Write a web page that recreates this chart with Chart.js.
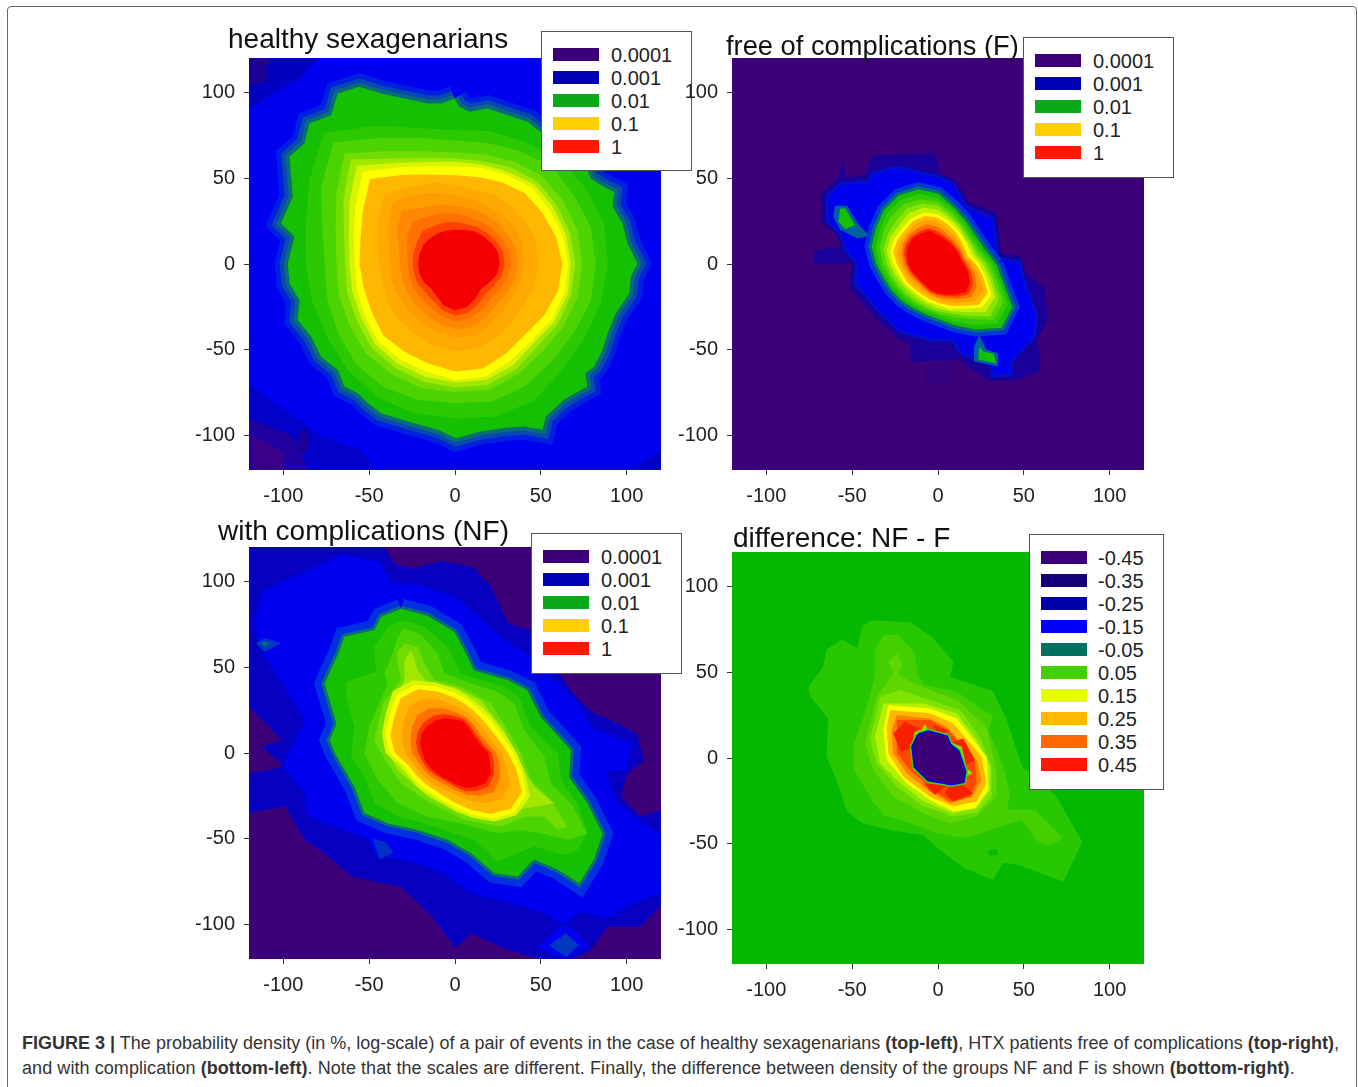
<!DOCTYPE html>
<html>
<head>
<meta charset="utf-8">
<title>Figure 3</title>
<script src="https://cdn.jsdelivr.net/npm/chart.js@4"></script>
<style>
  html, body { margin: 0; padding: 0; background: #fff; overflow: hidden; }
  body { width: 1358px; height: 1087px; position: relative; font-family: "Liberation Sans", Arial, sans-serif; }
  #frame { position: absolute; left: 7px; top: 6px; width: 1348px; height: 1100px; border: 1px solid #666; border-radius: 4px; }
  canvas { position: absolute; }
  .title { position: absolute; line-height: 32px; color: #111; white-space: nowrap; }
  .box { position: absolute; background: #fff; border: 1px solid #555; box-sizing: border-box; }
  .row { position: absolute; left: 0; height: 23px; width: 100%; }
  .swatch { position: absolute; left: 11px; top: 5px; width: 46px; height: 13px; }
  .lab { position: absolute; top: 1px; font-size: 20px; line-height: 23px; color: #222; }
  .caption { position: absolute; left: 22px; font-size: 18px; line-height: 22px; color: #333; white-space: nowrap; }
</style>
</head>
<body>
<div id="frame"></div>
<div id="stage"></div>
<div class="caption" style="top:1032px;letter-spacing:0.01px"><b>FIGURE 3 |</b> The probability density (in %, log-scale) of a pair of events in the case of healthy sexagenarians <b>(top-left)</b>, HTX patients free of complications <b>(top-right)</b>,</div>
<div class="caption" style="top:1057px;letter-spacing:0.07px">and with complication <b>(bottom-left)</b>. Note that the scales are different. Finally, the difference between density of the groups NF and F is shown <b>(bottom-right)</b>.</div>
<script>
// axis ticks and legend entries
const tickValues = [-100, -50, 0, 50, 100];
const densityLevels = ['0.0001', '0.001', '0.01', '0.1', '1'];
const densitySwatches = ['#3c0078', '#0000b4', '#08a818', '#ffd000', '#ff1800'];
const diffLevels = ['-0.45', '-0.35', '-0.25', '-0.15', '-0.05', '0.05', '0.15', '0.25', '0.35', '0.45'];
const diffSwatches = ['#3c0078', '#14007a', '#0000a8', '#0000f8', '#007060', '#44d000', '#e8ff00', '#ffb800', '#ff6800', '#ff1800'];

// contours are read as radius per angle around (0,0), outer to inner
const angles = [0, 15, 30, 45, 60, 75, 90, 105, 120, 135, 150, 165, 180, 195, 210, 225, 240, 255, 270, 285, 300, 315, 330, 345];

const healthyOuter = [-0.4,96.4,2.5,91.6,8.3,88.7,19,90.6,30.7,86.7,42.3,82.8,51,76,61.7,66.3,77.2,54.7,79,49.9,85,46,92.7,42,91.8,33.4,97.6,23.7,100.5,12,106.3,0.4,102.4,-7.4,101.5,-17,93.7,-28.7,88.9,-40.4,86,-50,81,-59.8,76,-63.6,77,-71.4,63.6,-79,53,-88.9,51,-96.6,40.4,-94.7,28.7,-95.6,15,-97.6,0.6,-101.5,-10,-96.6,-23.7,-92.7,-33.4,-89.8,-43,-87,-50.8,-81,-56.6,-75.3,-64.4,-71.4,-68.3,-61.7,-78,-54,-83.8,-42.3,-91.6,-32.6,-90.6,-21,-96.4,-11.3,-97.4,0.4,-93.5,16,-101.3,23.7,-94.5,39.2,-96.4,62.5,-87.7,70.2,-84.8,81.9,-72.2,86.7,-68.3,99.3,-55.7,103.2,-43,99.3,-29.5,96.4,-16,93.5,-8,93.5];

const healthyRadii = [
  [89,90,88,87,82,80,78,82,93,108,98,90,87,86,86,88,90,90,90,92,92,88,87,88],
  [82,82,80,80,76,73,72,76,85,100,90,80,76,77,79,82,83,82,81,83,82,80,80,82],
  [74,74,73,72,69,66,65,68,76,91,80,72,69,70,71,73.5,74,75,74.5,76,74,72,73,74],
  [70,69.5,68.5,68,65,62,61.4,64,71,86,75,67,64,65,66,69,70,71,72,73,71,68,69.5,70],
  [67.5,67,66,65.5,62,60,59.5,61.5,68,81,71,64,61.4,62,63,66,67,68,69,70,68,65,67,68],
  [66,65,63.5,63,60,58,57,59,65,76,67,61,58.5,59,60.5,63.5,64,65,67.5,68,65,63,65,66],
  [62.6,61,59,58,55,52.5,51.7,54,60,70,62,57,55.6,55,56,59,59,60,62.6,63,60,58,60,62],
  [49,49,48,47,46,45,46,49,52,58,52,47,44,44,45,46,47,49,51,51,49,47,47,48],
  [40,41,41,40,39,39,40,43,47,51,45,40,38,38,38,38.5,39.5,41,43,43,41,39,39,39.5],
  [36.5,36.5,35.5,34.5,34,33.5,34,36,38,44,39,34,32,32,32.5,33,34,36,38,38,36,34,34.5,36],
  [32.5,32.5,31,30,29,28.5,29.5,30.5,32,35,32,29,27.5,27.5,28,28,29,31,33.5,33,31,29,30,31.5],
  [29,29,27.5,26,25,24,24.5,25,25.5,27,25.5,25,24.6,24.5,24.5,24,25,28,30,29.5,27,25,26,28],
  [26,26,24.5,23,22,20.5,20,20,20.5,21,21.5,21.5,21.5,21.5,21,20,21.5,25,27,26,23.5,21,22.5,25]
];
const healthyColors = ['#2cc800','#4cd400','#70dc00','#a0e800','#d8f400','#ffff00','#ffb800','#ffaa00','#ff9c00','#ff8800','#ff7000','#ff4000','#f40000'];

// dark corners of the first panel, x,y pairs
const healthyCornerA = [-120,120,-80,120,-90,108,-105,100,-120,90];
const healthyCornerB = [-120,120,-108,120,-110,106,-120,104];
const healthyCornerC = [-120,-120,-45,-120,-55,-108,-78,-100,-95,-88,-120,-70];
const healthyCornerD = [-120,-120,-85,-120,-95,-100,-120,-90];
const healthyCornerE = [-118,-120,-100,-120,-100,-110,-118,-100];
const healthySpot = [-88,-95,-85,-102,-87,-110,-91,-110,-92,-102];
const healthyCornerF = [120,-120,105,-120,120,-108];

const freeRadii = [
  [34,29,27.5,28,30.5,34.5,41,45,46,44.5,41.7,40,36,32.5,31,30,29.5,30,32,37,44,52.5,50,39],
  [32,27,25.5,26,29,33,38.5,42,43,42,39,37.5,34,31,29,28,28,28.5,30,34.5,41,49,47,37],
  [30,25.5,24,24.5,27,31,36,39,40,39,37,35,32,29,27.5,26.5,26.5,27,29,32,37,46,44,35],
  [28,23.5,23,23.5,26,29,34,36.5,37,35,34,33,30,27.5,26,25,25,26,27.5,30,35,43,41,33],
  [26,22,21.5,22,24.5,27.5,31.5,34,34,32,32,31,28,25.5,24,23,23,24,26,28.5,32.5,39.5,38.5,31],
  [24,20,20,21,23,25.5,29,31,31,29.5,29.5,29,26,23.5,22.5,21.5,21.5,22.5,24,27,30,36,36,29],
  [22,18,18,19,21,23.5,27,29,29,27.5,27.5,27,24,21.5,21,20,20,21,22.5,25,28,33.5,33.5,27],
  [20,16.5,16.5,17.5,19,21,24.5,26.5,26.5,25.5,25.5,24.5,22,20,19,18,18,19,20.5,23,26,30.5,30.5,24.5],
  [18,15.5,15.5,16,17,18.5,21.5,24,24,24,23.5,22,20,18.5,17,16,16.5,18,19.5,21,23.5,27.5,26,22],
  [16.5,14.5,14.5,14.5,15.5,16.5,19,21.5,22,22.5,22,20.5,18.5,17,15.5,15,15.5,17,18,19.5,22,25,23.5,20],
  [15,13.5,13.5,13.5,14,15,17,20,20.5,21,20.5,19,17.5,16,14.5,14,14.5,16,17,18.5,20.5,23,21.5,18]
];
const freeColors = ['#14c000','#34cc00','#58d800','#88e400','#c4f000','#ffff00','#ffb800','#ffa000','#ff7000','#ff3000','#f40000'];
const freeFaint = [-8.5,-57.8,9,-57.8,9,-71,-8.5,-71];
const freeDark = [-38,63,-2,65,2,52,10,49,18,36,34,30,37,6,48,5,51,-5,62,-14,64,-32,58,-44,60,-62,46,-68,30,-68,12,-56,-16,-57,-16,-48,-24,-43,-36,-32,-52,-14,-50,0,-72,0,-72,8,-56,10,-60,18,-68,24,-68,42,-58,50,-55,62,-54,50,-43,52];
const freeBlue = [-24,56.6,-38.6,52.7,-40.5,47.9,-57,46.9,-64.7,39.1,-64.3,24.6,-57,17.8,-54,8.1,-47.3,0.4,-48.3,-11.2,-33.7,-28.7,-22.1,-39.3,-4.7,-44.2,8.9,-44.2,12.8,-51.9,30.2,-58.7,31.8,-65.5,43.8,-64,41.9,-57.8,56.4,-42.2,57.4,-30.6,49.6,-7.4,47.7,1.4,35,3.3,32.2,26.6,16.7,33.3,8.9,46.9,0.2,50.8];
const freeTealA = [-60,34,-53,34,-46,22.7,-39.5,16,-47,15,-57,20,-61,27.5];
const freeGreenA = [-57,32.4,-54,32.4,-48.3,22.7,-54,20.2,-58,24.6];
const freeTealB = [24,-41.3,28.3,-50,35,-52,35,-59.7,21.5,-56.8,21,-48];
const freeGreenB = [24,-48,26.4,-51,32.6,-52.3,34,-57.8,23.4,-55.8];

const compRadii = [
  [36,32,30,30,31,33.5,37.5,42.5,49,51,46.5,44,40.5,32.5,30,29.5,29,30,33.5,39,46,51,50.5,42],
  [34,30,28,28,29,31.5,35,40,46,48,44,42,38,30.5,28.5,27.5,27,28.5,31.5,37,44,49,48,40],
  [31,27,25,25,26,28.5,32,37,43,45,41,39,35,28,26,25,24.5,26,29,34,41,46,45,37],
  [27,23,21.5,21.5,23,25,27.5,32,37,38,35,32,29,25,23.5,22.5,22,22,24,28.5,34,38,37,31],
  [24,20,18.5,18.5,20,22,24,27,30,31,29,27,25,22,20.5,19.5,19,19.5,21.5,25,29,32,30,27],
  [21.5,17.5,16.5,16.5,18,20.5,21.5,23.5,25,25.5,25,23.5,21.5,19.5,18.5,17.5,17,17.5,19.5,23,25.5,27.5,26,23.5],
  [19.5,16,15,15,16.5,19,19.5,21,22,22.5,22.5,21,19,18,17,16,16,16.3,18,21,23,25,24,21]
];
const compColors = ['#d8f400','#ffff00','#ffb800','#ffa000','#ff7000','#ff3000','#f40000'];
const compDark = [-120,120,-41,120,-35,110,-24,107.5,-8,112,11,108,21,97,31,75.5,44,71.6,62,44.4,69.5,33,81,23,93,18,106,11.4,110,-4,100.5,-12,96.6,-25.4,108,-37,120,-33,120,-89,108,-101,89,-101,79,-114.7,69.5,-120,50,-120,30.7,-114.7,9.3,-105,0.6,-113.7,-14,-95,-31.4,-78,-60.5,-72,-74,-60,-87.7,-50.6,-99,-31,-120,-35,-120,-12,-99,-8,-113,3.7,-101,7.6,-120,27];
const compBlue = [-112,95,-66,116,-43,112,-37,99,-22,99,1.5,91,15,79,27,68,40,60,60,42.5,71,31,81,15,104,5.6,100.5,-10,89,-12,95,-29,120,-47,120,-82,102,-89,89,-97,73,-93,64,-101,50,-93,30.7,-87.5,9.3,-82,-8,-70,-24,-64,-47,-60,-51,-51,-66,-45,-86,-37,-88,-23.5,-101,-8,-93.5,7.6,-88,19,-99,36.7,-113,58,-117,70,-117,80];
const compGreen0 = [-31.4,84,-16,80,-0.4,70.6,7.4,56,11,48,30.7,42.5,42,36.7,50,21,67.5,1.7,66.5,-14,77,-29,86,-47,81,-62,72.4,-76,60,-68,46,-62,36.5,-72,23,-70,9.3,-58.4,-4.3,-50.6,-21.7,-44.8,-39,-41,-52.8,-35,-58.6,-19.6,-70,0,-73,7.6,-69,17,-76,40.5,-68,58,-64.4,67.7,-47,71.6,-43,79.3];
const compGreen1 = [-29.5,77.4,-18,73.5,-4.3,62,3.5,46.4,15,42.5,28.7,38.6,37.4,32.8,44,15.3,60,0,61.7,-15.7,71.4,-29.3,77,-46.8,71.4,-56.5,63.6,-59.4,46,-54.5,24.8,-63,11,-50.6,-0.4,-46.8,-17.8,-41,-33.4,-37,-47,-29.3,-51.8,-15.7,-60.5,-2,-58.6,15.3,-63.4,32.8,-63.4,41.5,-46,47.3,-47,62,-39,73.5];
const compGreen2 = [-29.5,72.6,-19.8,68.7,-10,58,-6.2,46.4,9.3,40.5,24.8,35.7,34.5,29,40.4,13.4,52,-2,55.9,-17.7,67.5,-29.3,77,-46.8,65.6,-50.6,50,-46.8,38.4,-44.8,24.8,-46.8,3.5,-41,-15.9,-37,-33.4,-29.3,-45,-15.7,-52.8,-0.2,-49.9,15.3,-39.2,40.5,-41,46.4,-36.3,58,-33.4,67.7];
const compGreen3 = [-29.5,63.8,-21.7,61.9,-17.8,52.2,-12,42.5,3.5,38.6,21,29,30.7,13.4,38.4,-0.2,44.2,-15.7,55.9,-27.4,65.6,-42.9,59.8,-44.8,52,-37,40.4,-37,26.8,-42.9,5.4,-39,-14,-29.3,-31.4,-17.7,-41,-4,-47,7.6,-42,28.9,-31.4,42.5,-34.3,58];
const compGreen4 = [-25.6,60,-21.7,48.3,-16,40.5,-0.4,38.6,15,30.8,28.7,13.4,36.5,-4,46,-19.6,57.8,-29.3,48,-31,36.5,-33,19,-39,1.6,-35,-16,-25.4,-33.4,-10,-41,3.7,-39,23,-29.5,42.5,-29.5,54];
const compSpotA = [-116,64,-111,67,-101,64,-111,59];
const compSpotA2 = [-113,64,-111,65,-108,64,-111,62];
const compSpotB = [48,-113,64,-98,78,-112,64,-120];
const compSpotB2 = [55,-112,64.6,-105,72,-112,64.6,-119];
const compSpotC = [-48,-50,-40,-52,-36,-58,-44,-62];

const diffC1 = [-39,80,-44,77,-47,64,-56,69,-65,63,-67,53,-75.5,41.5,-74.5,36,-64,23,-65,1,-59,-13,-53,-31,-44,-38,-28,-42,-8.5,-45,1,-53.5,15,-64,32,-71,38,-61,46,-62,73,-72,84,-49,69,-22.5,49,-5,40,22,32,39,7,47,9,56,-3,70,-16,79,-32,80];
const diffC2 = [-36.7,62.9,-31.8,71.6,-23,71.6,-14,61.9,-11.4,47.3,-7.6,42.5,10.9,38.6,32.2,24,29.3,16.3,38,-5,41.9,-20.6,40,-30.3,56.5,-30.3,72.9,-46.8,64.2,-51.6,57.4,-47.7,48.7,-36,30.3,-41.9,16.7,-46.8,-0.8,-43.8,-16.3,-38,-31.8,-33.2,-38.6,-24.4,-49.3,-6,-49.3,6.6,-41.5,29.9,-36.7,47.3];
const diffC3 = [-28.9,56,-24,60.9,-21,55,-23,48.3,-12.4,42.5,10.9,33.8,28.3,18.2,34,-7,34,-22.5,22.5,-34,7,-38,-8.5,-32.2,-26,-22.5,-37.6,-7,-42.5,8.5,-35.7,35.7,-26,49.3];
const diffC4 = [-33.8,35.7,-22,39.6,-4.7,33.8,12.8,28,24.4,12.4,31.2,-5,31.2,-22.5,22.5,-32.2,8.9,-34,-8.5,-28.3,-24,-16.7,-35.7,-3,-39.6,10.5];
const diffC5 = [-31.8,31.8,-8.5,31.8,10.9,26,22.5,10.5,30.3,-5,30.3,-18.6,22.5,-29.3,8.9,-32.2,-8.5,-25.4,-24,-12.8,-33.8,-3,-36.7,12.4];
const diffYellow = [-28.9,30.8,-4.7,28.9,10.9,23,28.3,0.8,29.3,-18.6,21.5,-29.3,8.9,-31.2,-4.7,-24.4,-18.2,-14.7,-29.9,-1.2,-31.8,16.3];
const diffOrange = [-27.9,27.9,-4.7,26,8.9,20.2,25.4,0.8,28.3,-14.7,22.5,-25.4,8.9,-28.3,-4.7,-22.5,-20.2,-10.9,-28.9,2.7,-29.9,18.2];
const diffDeep = [-24,25,-4.7,23,5,18.2,22.5,-1.2,25.4,-12.8,19.6,-22.5,7,-26.4,-4.7,-19.6,-18.2,-8.9,-26,2.7,-27,16.3];
const diffHot = [-24,22.1,-4.7,22.1,6,16.3,21.5,-1.2,22.5,-14.7,18.6,-22.5,7,-25.4,-2.7,-18.6,-16.3,-7,-24,2.7];
const diffRedA = [-26,14.4,-19.2,21.1,-11.4,17.3,-13.4,13.4,-15.3,5.6,-22,3.7];
const diffRedB = [-2.7,19.2,5,16.3,6,12.4,-0.8,15.3];
const diffRedC = [8.9,9.5,14.7,11.4,21.5,-1.2,14.7,-5,11.8,2.7];
const diffRedD = [-8.5,-14.7,5,-16,-1.7,-21.5,-7.6,-15.7];
const diffRedE = [7,-14.7,14.7,-15.7,20.6,-20.6,8.9,-25.4,4,-20.6];
const diffSpikes = [-7.6,19.8,-5.2,15.3,5,14.4,6.6,9.5,13.8,6.6,16.7,-6,20.2,-8.9,15.7,-10.9,15.1,-14.7,-5.6,-14.7,-7,-10.9,-14.4,-7,-15.9,6.6,-13.4,15.3,-9.5,16.3];
const diffCore = [-11.4,13.4,-5.6,15.3,5,12.4,7,7.6,11.8,3.7,15.7,-8,14.7,-13.8,8,-15.1,-5.6,-12.8,-13.4,-5,-14.7,6.6];
const diffHole = [29,-54,34,-53,35,-56,30,-57];

function fromRadii(radii) {
  const pts = radii.map((r, i) => ({
    x: r * Math.cos(angles[i] * Math.PI / 180),
    y: r * Math.sin(angles[i] * Math.PI / 180)
  }));
  pts.push(pts[0]);
  return pts;
}

function fromPairs(flat) {
  const pts = [];
  for (let i = 0; i < flat.length; i += 2) pts.push({ x: flat[i], y: flat[i + 1] });
  pts.push(pts[0]);
  return pts;
}

function layer(pts, color, stroke, width) {
  return {
    data: pts,
    showLine: true,
    fill: 'shape',
    backgroundColor: color,
    borderColor: stroke || color,
    borderWidth: width || 0,
    pointRadius: 0,
    tension: 0
  };
}

const plotFill = {
  id: 'plotFill',
  beforeDatasetsDraw(chart, args, opts) {
    const a = chart.chartArea;
    chart.ctx.save();
    chart.ctx.fillStyle = opts.color;
    chart.ctx.fillRect(a.left, a.top, a.right - a.left, a.bottom - a.top);
    chart.ctx.restore();
  }
};

function axis() {
  return {
    type: 'linear',
    min: -120,
    max: 120,
    border: { display: false },
    grid: { drawOnChartArea: false, drawTicks: true, tickLength: 5, tickColor: '#333', lineWidth: 1 },
    ticks: { color: '#222', font: { family: 'Liberation Sans', size: 20 }, maxRotation: 0, autoSkip: false },
    afterBuildTicks: s => { s.ticks = tickValues.map(v => ({ value: v })); }
  };
}

// cx, cy: where (0,0) lands on the page, the plot is 412px square
function drawPanel(cx, cy, bg, layers) {
  const c = document.createElement('canvas');
  c.width = 495;
  c.height = 470;
  c.style.left = (cx - 278) + 'px';
  c.style.top = (cy - 218) + 'px';
  c.style.width = '495px';
  c.style.height = '470px';
  document.getElementById('stage').appendChild(c);
  const x = axis();
  x.ticks.padding = 9;
  x.afterFit = s => { s.height = 46; };
  const y = axis();
  y.ticks.padding = 9;
  y.afterFit = s => { s.width = 72; s.paddingTop = 0; s.paddingBottom = 0; };
  return new Chart(c.getContext('2d'), {
    type: 'scatter',
    // the library paints the first dataset last
    data: { datasets: layers.slice().reverse() },
    options: {
      responsive: false,
      animation: false,
      layout: { padding: { left: 0, top: 12, right: 11, bottom: 0 } },
      plugins: { legend: { display: false }, tooltip: { enabled: false }, plotFill: { color: bg } },
      scales: { x: x, y: y }
    },
    plugins: [plotFill]
  });
}

function addTitle(text, left, top, size) {
  const d = document.createElement('div');
  d.className = 'title';
  d.textContent = text;
  d.style.left = left + 'px';
  d.style.top = top + 'px';
  d.style.fontSize = size + 'px';
  document.getElementById('stage').appendChild(d);
}

function addLegend(left, top, w, h, labels, colors, textLeft) {
  const box = document.createElement('div');
  box.className = 'box';
  box.style.cssText = `left:${left}px;top:${top}px;width:${w}px;height:${h}px`;
  labels.forEach((t, i) => {
    const row = document.createElement('div');
    row.className = 'row';
    row.style.top = (11 + i * 23) + 'px';
    row.innerHTML = `<div class="swatch" style="background:${colors[i]}"></div><div class="lab" style="left:${textLeft}px">${t}</div>`;
    box.appendChild(row);
  });
  document.getElementById('stage').appendChild(box);
}

const healthyLayers = [
  layer(fromPairs(healthyCornerC), '#0000c8'),
  layer(fromPairs(healthyCornerA), '#0000c0'),
  layer(fromPairs(healthyCornerD), '#2000a0'),
  layer(fromPairs(healthyCornerB), '#1c0098'),
  layer(fromPairs(healthyCornerE), '#3a0088'),
  layer(fromPairs(healthySpot), '#1c0098'),
  layer(fromPairs(healthyCornerF), '#0000c0'),
  layer(fromPairs(healthyOuter), '#14c000', '#0020e0', 26),
  layer(fromPairs(healthyOuter), '#14c000', '#0848b0', 16),
  layer(fromPairs(healthyOuter), '#14c000', '#0a6c78', 8),
  layer(fromPairs(healthyOuter), '#14c000')
].concat(healthyRadii.map((r, i) => layer(fromRadii(r), healthyColors[i])));

const freeLayers = [
  layer(fromPairs(freeFaint), '#34007e'),
  layer(fromPairs(freeDark), '#1a0098'),
  layer(fromPairs(freeBlue), '#0000f0', '#0010c8', 3),
  layer(fromPairs(freeTealA), '#0060a0'),
  layer(fromPairs(freeGreenA), '#14c000'),
  layer(fromPairs(freeTealB), '#0060a0'),
  layer(fromPairs(freeGreenB), '#14c000'),
  layer(fromRadii(freeRadii[0]), '#14c000', '#0038d8', 14),
  layer(fromRadii(freeRadii[0]), '#14c000', '#0a6c78', 6)
].concat(freeRadii.map((r, i) => layer(fromRadii(r), freeColors[i])));

const compLayers = [
  layer(fromPairs(compDark), '#0800c0'),
  layer(fromPairs(compSpotB), '#0000f0'),
  layer(fromPairs(compBlue), '#0000f0', '#0000c8', 3),
  layer(fromPairs(compSpotA), '#0038c0'),
  layer(fromPairs(compSpotA2), '#0a6c78'),
  layer(fromPairs(compSpotB2), '#0038c0'),
  layer(fromPairs(compSpotC), '#0030c8'),
  layer(fromPairs(compGreen0), '#14c000', '#0030e0', 20),
  layer(fromPairs(compGreen0), '#14c000', '#0a6c78', 6),
  layer(fromPairs(compGreen0), '#14c000'),
  layer(fromPairs(compGreen1), '#2cc800'),
  layer(fromPairs(compGreen2), '#4cd400'),
  layer(fromPairs(compGreen3), '#70dc00'),
  layer(fromPairs(compGreen4), '#a0e800')
].concat(compRadii.map((r, i) => layer(fromRadii(r), compColors[i])));

const diffLayers = [
  layer(fromPairs(diffC1), '#28c800'),
  layer(fromPairs(diffHole), '#04b800'),
  layer(fromPairs(diffC2), '#44d000'),
  layer(fromPairs(diffC3), '#60d800'),
  layer(fromPairs(diffC4), '#80e400'),
  layer(fromPairs(diffC5), '#b4f000'),
  layer(fromPairs(diffYellow), '#ffff00'),
  layer(fromPairs(diffOrange), '#ffb800'),
  layer(fromPairs(diffDeep), '#ff8000'),
  layer(fromPairs(diffHot), '#ff4800'),
  layer(fromPairs(diffRedA), '#f82000'),
  layer(fromPairs(diffRedB), '#f82000'),
  layer(fromPairs(diffRedC), '#f82000'),
  layer(fromPairs(diffRedD), '#f82000'),
  layer(fromPairs(diffRedE), '#f82000'),
  layer(fromPairs(diffSpikes), '#90e800'),
  layer(fromPairs(diffCore), '#3c0078', '#40d000', 6),
  layer(fromPairs(diffCore), '#3c0078', '#0000f0', 3),
  layer(fromPairs(diffCore), '#3c0078')
];

drawPanel(455, 264, '#0000f0', healthyLayers);
addTitle('healthy sexagenarians', 228, 23, 28);
addLegend(541, 31, 151, 140, densityLevels, densitySwatches, 69);
drawPanel(938, 264, '#3c0078', freeLayers);
addTitle('free of complications (F)', 726, 30, 27.3);
addLegend(1023, 37, 151, 141, densityLevels, densitySwatches, 69);
drawPanel(455, 753, '#3c0078', compLayers);
addTitle('with complications (NF)', 218, 515, 28);
addLegend(531, 533, 151, 141, densityLevels, densitySwatches, 69);
drawPanel(938, 758, '#04b800', diffLayers);
addTitle('difference: NF - F', 733, 522, 28);
addLegend(1029, 534, 135, 256, diffLevels, diffSwatches, 68);
</script>
</body>
</html>
